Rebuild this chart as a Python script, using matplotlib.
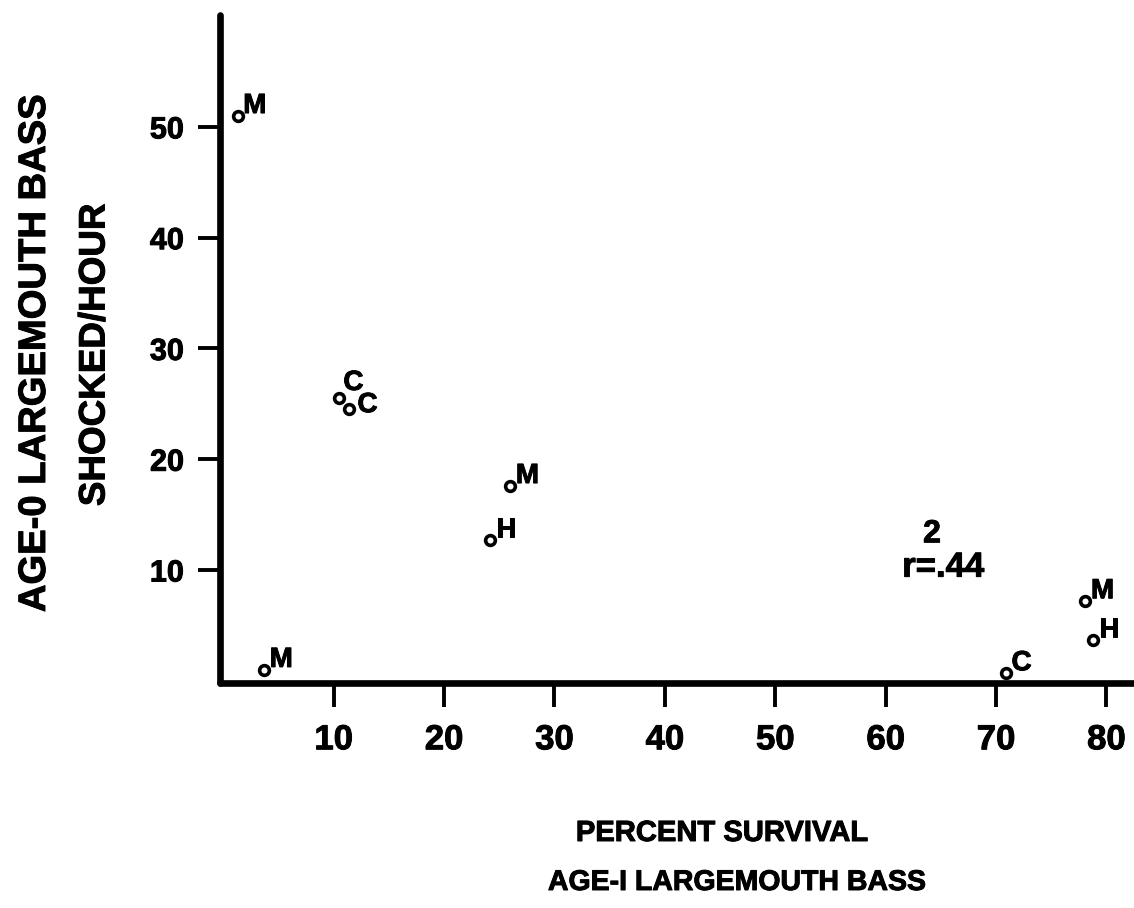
import matplotlib
matplotlib.use("Agg")
import matplotlib.pyplot as plt
import matplotlib.patheffects as pe

# Data
survival = [1.3, 10.5, 11.4, 26.0, 24.2, 78.1, 78.8, 70.9, 3.7]
shocked = [51.0, 25.5, 24.5, 17.6, 12.7, 7.2, 3.7, 0.7, 1.0]
labels = ["M", "C", "C", "M", "H", "M", "H", "C", "M"]
x_ticks = [10, 20, 30, 40, 50, 60, 70, 80]
y_ticks = [10, 20, 30, 40, 50]
r2_text = "r=.44"

plt.rcParams['font.family'] = ['Liberation Sans', 'DejaVu Sans']
plt.rcParams['font.weight'] = 'bold'

heavy = [pe.withStroke(linewidth=0.7, foreground='black')]

W, H = 1134, 908
fig = plt.figure(figsize=(W / 100, H / 100), dpi=100)
x0px, y0px, top_px = 220, 683, 15
ax = fig.add_axes([x0px / W, 1 - y0px / H, (W - x0px) / W, (y0px - top_px) / H])

ax.plot(survival, shocked, linestyle='none', marker='o', markersize=7.0,
        markerfacecolor='white', markeredgecolor='black', markeredgewidth=2.6,
        clip_on=False, zorder=3)

offsets = [(4, 2)] * len(labels)
offsets[1] = (3, 6)
offsets[2] = (6, -2)
for xv, yv, lab, off in zip(survival, shocked, labels, offsets):
    ax.annotate(lab, (xv, yv), xytext=off, textcoords='offset points',
                ha='left', va='baseline', fontsize=20, fontweight='bold',
                path_effects=heavy)

ax.set_xlim(-0.3, 82.5)
ax.set_ylim(-0.2, 60.1)
ax.set_xticks(x_ticks)
ax.set_yticks(y_ticks)
ax.set_xticklabels([str(t) for t in x_ticks], fontsize=25, fontweight='bold')
ax.set_yticklabels([str(t) for t in y_ticks], fontsize=22, fontweight='bold')
for t in ax.get_xticklabels() + ax.get_yticklabels():
    t.set_path_effects(heavy)
ax.tick_params(axis='x', direction='out', length=17, width=2.8, pad=12)
ax.tick_params(axis='y', direction='out', length=16, width=2.8, pad=10)

for s in ['top', 'right']:
    ax.spines[s].set_visible(False)
for s in ['left', 'bottom']:
    ax.spines[s].set_linewidth(4.8)
    ax.spines[s].set_capstyle('round')

ax.text(61.5, 9.4, r2_text, fontsize=25, fontweight='bold', ha='left', va='baseline',
        path_effects=heavy)
ax.text(64.2, 12.5, "2", fontsize=23, fontweight='bold', ha='center', va='baseline',
        path_effects=heavy)

fig.text(35 / W, 1 - 353 / H, "AGE-0 LARGEMOUTH BASS", rotation=90,
         ha='center', va='center', fontsize=27.5, fontweight='bold', path_effects=heavy)
fig.text(95 / W, 1 - 355 / H, "SHOCKED/HOUR", rotation=90,
         ha='center', va='center', fontsize=26.5, fontweight='bold', path_effects=heavy)
fig.text(722 / W, 1 - 833 / H, "PERCENT SURVIVAL",
         ha='center', va='center', fontsize=21, fontweight='bold', path_effects=heavy)
fig.text(737 / W, 1 - 883 / H, "AGE-I LARGEMOUTH BASS",
         ha='center', va='center', fontsize=20.5, fontweight='bold', path_effects=heavy)

fig.savefig("out.png", dpi=100)
